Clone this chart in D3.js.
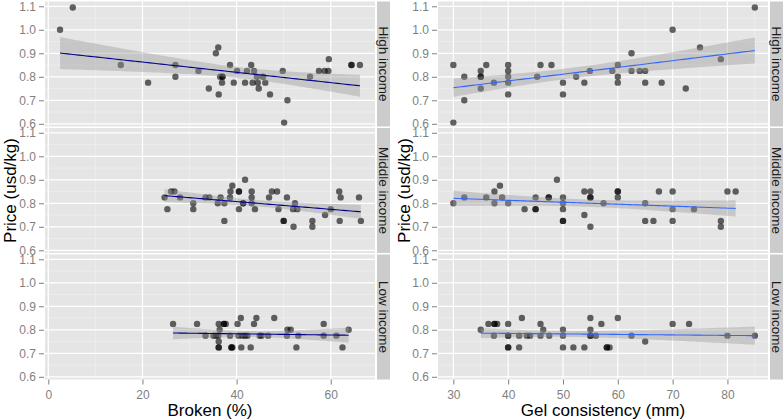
<!DOCTYPE html>
<html><head><meta charset="utf-8">
<script src="https://cdn.jsdelivr.net/npm/d3@7"></script>
<style>body{margin:0;background:#fff}</style></head>
<body><svg id="c" width="784" height="420"></svg>
<script>
const rowLabels = ["High income", "Middle income", "Low income"];
const yTicks = [0.6, 0.7, 0.8, 0.9, 1.0, 1.1];
const yMinor = [0.65, 0.75, 0.85, 0.95, 1.05];
const brokenTicks = [0, 20, 40, 60];
const brokenMinor = [10, 30, 50];
const gelTicks = [30, 40, 50, 60, 70, 80];
const gelMinor = [35, 45, 55, 65, 75, 85];
const xTitles = ["Broken (%)", "Gel consistency (mm)"];
const yTitle = "Price (usd/kg)";

// [broken %, price]
const brokenHigh = [[2.5,1.0],[5.2,1.095],[15.4,0.85],[21.2,0.775],[27.0,0.85],[27.0,0.80],[31.9,0.825],[34.1,0.75],[35.6,0.9],[36.1,0.925],[36.2,0.725],[36.5,0.80],[37.0,0.80],[37.0,0.80],[36.9,0.775],[38.6,0.85],[39.4,0.775],[40.1,0.825],[41.8,0.775],[42.2,0.825],[43.1,0.85],[43.4,0.775],[43.7,0.825],[44.3,0.80],[44.5,0.775],[44.7,0.75],[45.6,0.80],[46.1,0.775],[47.1,0.725],[49.8,0.825],[50.1,0.605],[50.8,0.70],[55.6,0.80],[57.5,0.825],[58.7,0.825],[59.5,0.825],[59.6,0.875],[64.4,0.85],[64.4,0.85],[66.2,0.85]];
const brokenMiddle = [[24.7,0.825],[25.3,0.775],[26.1,0.85],[26.8,0.85],[28.0,0.825],[30.8,0.80],[30.8,0.775],[33.4,0.825],[34.2,0.825],[36.0,0.80],[36.6,0.825],[37.4,0.80],[37.4,0.725],[38.6,0.825],[38.7,0.85],[39.1,0.875],[40.5,0.85],[40.5,0.85],[40.5,0.775],[41.4,0.80],[41.4,0.80],[41.8,0.9],[43.2,0.85],[43.2,0.825],[43.2,0.80],[43.9,0.775],[46.9,0.825],[47.5,0.85],[48.6,0.85],[48.9,0.775],[50.0,0.725],[50.0,0.725],[50.7,0.825],[52.1,0.70],[52.4,0.80],[52.0,0.775],[52.9,0.775],[56.1,0.725],[56.1,0.70],[58.8,0.75],[60.0,0.775],[61.8,0.85],[62.1,0.825],[61.9,0.725],[66.0,0.825],[66.4,0.725]];
const brokenLow = [[26.5,0.825],[31.6,0.825],[33.4,0.775],[35.1,0.775],[35.6,0.775],[36.2,0.825],[36.4,0.80],[36.1,0.775],[36.2,0.75],[36.2,0.725],[36.2,0.725],[37.3,0.825],[37.3,0.825],[37.7,0.825],[38.6,0.775],[38.9,0.725],[38.9,0.725],[39.1,0.725],[40.2,0.825],[40.4,0.775],[40.9,0.85],[41.0,0.725],[41.2,0.775],[41.8,0.775],[42.3,0.775],[43.0,0.725],[43.7,0.825],[44.2,0.85],[44.9,0.775],[45.3,0.775],[46.7,0.775],[48.0,0.85],[50.7,0.775],[50.8,0.80],[51.5,0.80],[52.7,0.725],[53.1,0.775],[58.5,0.825],[58.5,0.775],[61.2,0.775],[62.5,0.725],[63.8,0.80]];

// [gel consistency mm, price]
const gelHigh = [[30,0.85],[30,0.605],[32,0.80],[32,0.70],[35,0.825],[35,0.80],[35,0.80],[35,0.75],[36,0.85],[37.4,0.775],[40,0.85],[40,0.825],[40,0.80],[40,0.775],[40,0.725],[45.3,0.80],[45.9,0.85],[47.9,0.85],[50,0.775],[50,0.725],[52.4,0.80],[53.9,0.775],[54.9,0.825],[59,0.825],[60,0.85],[60,0.80],[60,0.775],[62.5,0.9],[62.5,0.825],[64,0.825],[65,0.825],[65,0.775],[68,0.775],[70,1.0],[72.4,0.75],[75,0.925],[78.8,0.875],[85,1.095]];
const gelMiddle = [[30,0.80],[32,0.825],[36,0.825],[37.5,0.85],[37.5,0.80],[38.5,0.875],[38.9,0.825],[40,0.80],[43,0.775],[45,0.825],[45,0.775],[45,0.775],[47.4,0.825],[47.4,0.825],[48.9,0.9],[50,0.825],[50,0.80],[50,0.775],[50,0.725],[50,0.725],[53.9,0.85],[53.9,0.75],[55,0.85],[55,0.825],[55,0.825],[55,0.70],[57.4,0.80],[60,0.85],[60,0.85],[60,0.825],[65,0.80],[65,0.725],[66.5,0.725],[67.5,0.85],[70,0.85],[70,0.775],[70,0.725],[73.9,0.775],[78.8,0.725],[78.8,0.70],[80,0.85],[81.5,0.85]];
const gelLow = [[35,0.80],[36.4,0.825],[37.4,0.775],[37.5,0.825],[37.5,0.825],[38,0.825],[40,0.825],[40,0.775],[40,0.775],[40,0.725],[40,0.725],[42,0.775],[42,0.725],[42.5,0.85],[43.4,0.775],[44,0.775],[45.9,0.825],[45.9,0.775],[46.4,0.80],[47.5,0.775],[50,0.80],[50,0.775],[50,0.725],[51.9,0.725],[53.9,0.725],[55,0.85],[55,0.80],[55,0.775],[55,0.775],[56,0.775],[57,0.825],[58,0.725],[58,0.725],[58.5,0.725],[60,0.85],[62.5,0.775],[65,0.75],[70,0.825],[73,0.825],[80,0.775],[85,0.775]];

const font = "'Liberation Sans', Arial, Helvetica, sans-serif";
const svg = d3.select("#c");

const cols = [
  {x0:45, x1:375, strip:377, domain:[-0.7,69.4], ticks:brokenTicks, minor:brokenMinor, title:xTitles[0], line:"#00008B", data:[brokenHigh,brokenMiddle,brokenLow], yTitleX:10},
  {x0:438, x1:768, strip:770, domain:[27.2,87.4], ticks:gelTicks, minor:gelMinor, title:xTitles[1], line:"#3366FF", data:[gelHigh,gelMiddle,gelLow], yTitleX:404}
];
const rows = [0,1,2].map(i => ({y0: 1.5 + i*126.5, y1: 1.5 + i*126.5 + 125}));
const yDomain = [0.5885, 1.1204];

function fit(data) {
  const n = data.length;
  const mx = d3.mean(data, d => d[0]), my = d3.mean(data, d => d[1]);
  let sxx = 0, sxy = 0;
  data.forEach(d => { sxx += (d[0]-mx)**2; sxy += (d[0]-mx)*(d[1]-my); });
  const b = sxy / sxx, a = my - b*mx;
  let sse = 0;
  data.forEach(d => { sse += (d[1] - a - b*d[0])**2; });
  const s = Math.sqrt(sse / (n-2));
  const t = 1.96 + 2.4/(n-2);
  const [lo, hi] = d3.extent(data, d => d[0]);
  return d3.range(81).map(i => {
    const x = lo + (hi-lo)*i/80;
    const y = a + b*x;
    const se = s*Math.sqrt(1/n + (x-mx)**2/sxx);
    return {x, y, lo: y - t*se, hi: y + t*se};
  });
}

cols.forEach((c, ci) => {
  const x = d3.scaleLinear().domain(c.domain).range([c.x0, c.x1]);
  rows.forEach((r, ri) => {
    const y = d3.scaleLinear().domain(yDomain).range([r.y1, r.y0]);
    const g = svg.append("g");
    const clipId = `clip${ci}${ri}`;
    svg.append("clipPath").attr("id", clipId).append("rect")
      .attr("x", c.x0).attr("y", r.y0).attr("width", c.x1-c.x0).attr("height", r.y1-r.y0);
    g.append("rect").attr("x", c.x0).attr("y", r.y0).attr("width", c.x1-c.x0).attr("height", r.y1-r.y0).attr("fill", "#E5E5E5");
    // minor grid
    g.selectAll(".mx").data(c.minor).join("line").attr("x1", d=>x(d)).attr("x2", d=>x(d)).attr("y1", r.y0).attr("y2", r.y1)
      .attr("stroke", "#F2F2F2").attr("stroke-width", 0.6).attr("clip-path", `url(#${clipId})`);
    g.selectAll(".my").data(yMinor).join("line").attr("y1", d=>y(d)).attr("y2", d=>y(d)).attr("x1", c.x0).attr("x2", c.x1)
      .attr("stroke", "#F2F2F2").attr("stroke-width", 0.6);
    // major grid
    g.selectAll(".Mx").data(c.ticks).join("line").attr("x1", d=>x(d)).attr("x2", d=>x(d)).attr("y1", r.y0).attr("y2", r.y1)
      .attr("stroke", "#FFFFFF").attr("stroke-width", 1.2);
    g.selectAll(".My").data(yTicks).join("line").attr("y1", d=>y(d)).attr("y2", d=>y(d)).attr("x1", c.x0).attr("x2", c.x1)
      .attr("stroke", "#FFFFFF").attr("stroke-width", 1.2);
    // points
    g.append("g").selectAll("circle").data(c.data[ri]).join("circle")
      .attr("cx", d=>x(d[0])).attr("cy", d=>y(d[1])).attr("r", 3.2)
      .attr("fill", "#000").attr("fill-opacity", 0.6);
    // smooth
    const f = fit(c.data[ri]);
    const sg = g.append("g").attr("clip-path", `url(#${clipId})`);
    sg.append("path").datum(f).attr("d", d3.area().x(d=>x(d.x)).y0(d=>y(d.lo)).y1(d=>y(d.hi)))
      .attr("fill", "#999999").attr("fill-opacity", 0.4);
    sg.append("path").datum(f).attr("d", d3.line().x(d=>x(d.x)).y(d=>y(d.y)))
      .attr("fill", "none").attr("stroke", c.line).attr("stroke-width", 1.1);
    // strip
    g.append("rect").attr("x", c.strip).attr("y", r.y0).attr("width", 13).attr("height", r.y1-r.y0).attr("fill", "#CCCCCC");
    g.append("text").attr("transform", `translate(${c.strip+6.5},${(r.y0+r.y1)/2}) rotate(90)`)
      .attr("text-anchor", "middle").attr("dy", "0.35em").attr("font-family", font).attr("font-size", 13.5)
      .attr("fill", "#1A1A1A").text(rowLabels[ri]);
    // y axis
    const ya = g.append("g").attr("transform", `translate(${c.x0-1},0)`)
      .call(d3.axisLeft(y).tickValues(yTicks).tickFormat(d3.format(".1f")).tickSize(5).tickPadding(3));
    ya.select(".domain").remove();
    ya.selectAll("line").attr("stroke", "#7F7F7F");
    ya.selectAll("text").attr("fill", "#7F7F7F").attr("font-family", font).attr("font-size", 12);
    if (ri === 2) {
      const xa = g.append("g").attr("transform", `translate(0,${r.y1})`)
        .call(d3.axisBottom(x).tickValues(c.ticks).tickFormat(d3.format("d")).tickSize(5).tickPadding(6));
      xa.select(".domain").remove();
      xa.selectAll("line").attr("stroke", "#7F7F7F");
      xa.selectAll("text").attr("fill", "#7F7F7F").attr("font-family", font).attr("font-size", 12);
    }
  });
  svg.append("text").attr("x", (c.x0+c.x1)/2).attr("y", 416).attr("text-anchor", "middle")
    .attr("font-family", font).attr("font-size", 17).attr("fill", "#000").text(c.title);
  svg.append("text").attr("transform", `translate(${c.yTitleX},${(rows[0].y0+rows[2].y1)/2}) rotate(-90)`)
    .attr("text-anchor", "middle").attr("dy", "0.35em").attr("font-family", font).attr("font-size", 17)
    .attr("fill", "#000").text(yTitle);
});
</script>
</body></html>
